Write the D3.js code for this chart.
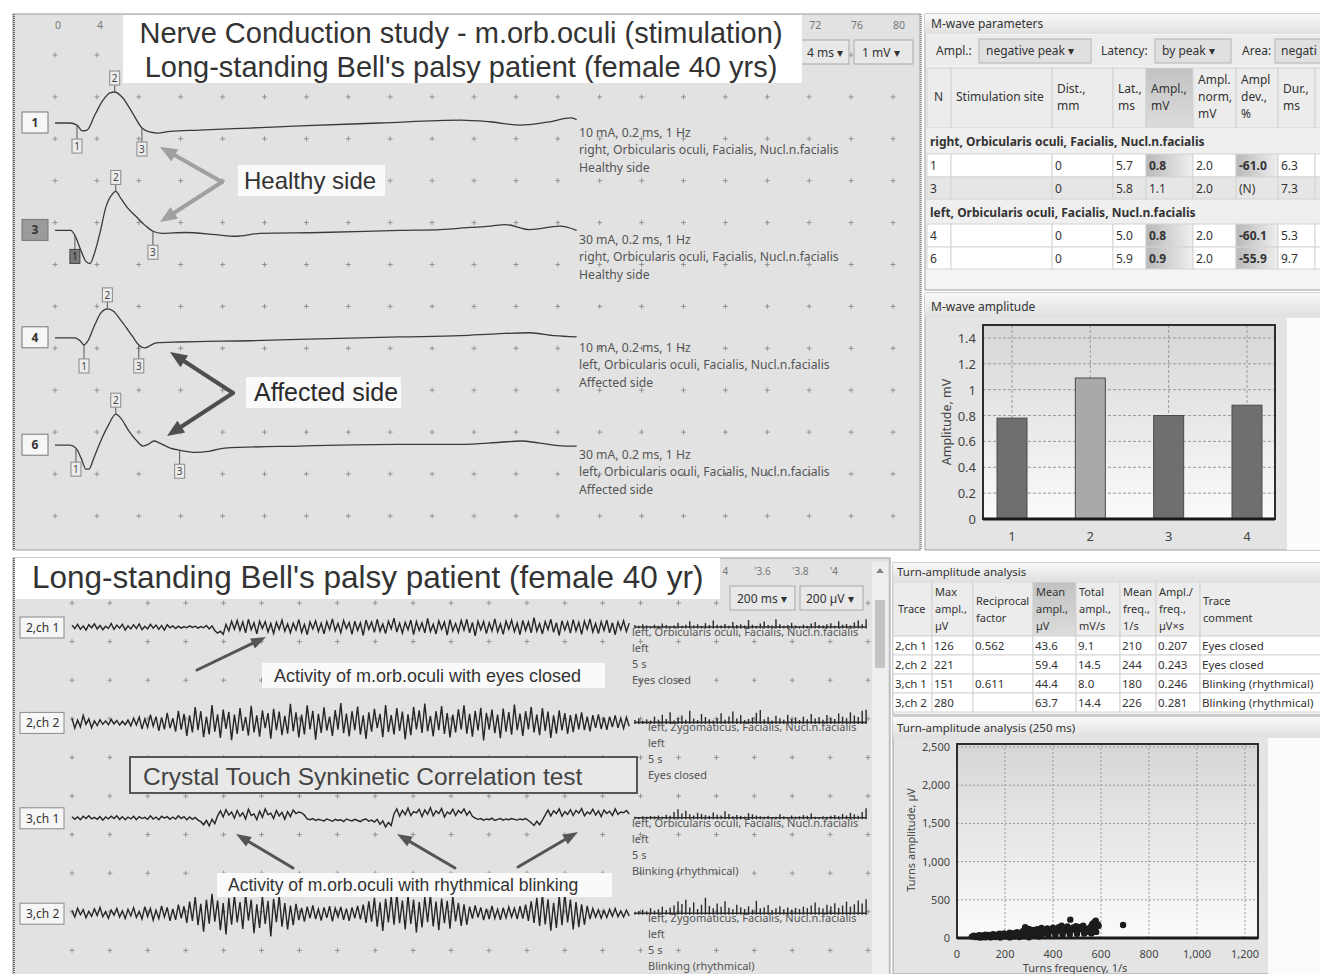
<!DOCTYPE html>
<html><head><meta charset="utf-8">
<script src="https://cdn.jsdelivr.net/npm/d3@7"></script>
<style>body{margin:0;background:#fff}svg{display:block}</style>
</head><body>
<script>
// ================= DATA =================
// --- M-wave traces (time ms, deflection mV, upward positive as displayed)
const mTraceIds = ["1","3","4","6"];
const mTrace1 = [[0,0],[1.4,0],[2.1,-0.05],[2.6,-0.19],[3.05,-0.17],[3.8,0.19],[4.6,0.55],[5.25,0.72],[5.7,0.74],[6.4,0.62],[7.35,0.26],[8.3,-0.12],[9.1,-0.22],[9.8,-0.24],[11.0,-0.2],[13.8,-0.17],[18.6,-0.12],[23.4,-0.07],[31.0,0],[38.7,0.07],[41.5,0.03],[44.4,-0.05],[47.0,0.02],[49.3,0.12],[49.8,0.08]];
const mTrace3 = [[0,0],[1.5,0],[1.9,-0.12],[2.4,-0.43],[2.95,-0.74],[3.35,-0.79],[3.7,-0.6],[4.3,-0.05],[4.85,0.55],[5.45,0.86],[5.8,0.93],[6.3,0.76],[6.95,0.53],[7.75,0.33],[8.6,0.12],[9.35,-0.02],[10.2,-0.07],[12.4,-0.05],[15.3,-0.1],[17.2,-0.14],[19.6,-0.07],[25.3,-0.05],[32.9,0],[36.8,0.02],[39.6,0.07],[41.5,0.1],[43.0,0.14],[45.3,0.02],[48.2,0.1],[49.8,0]];
const mTrace4 = [[0,0],[1.9,0],[2.4,-0.07],[2.77,-0.17],[3.15,-0.07],[3.8,0.31],[4.4,0.6],[5.0,0.69],[5.55,0.64],[6.4,0.38],[7.35,0.05],[8.0,-0.17],[8.6,-0.24],[9.05,-0.19],[9.65,-0.12],[11.9,-0.1],[18.6,-0.07],[26.2,-0.02],[32.9,0.02],[38.7,0.05],[42.5,0.1],[45.3,0.12],[47.7,0.05],[49.8,0.02]];
const mTrace6 = [[0,0],[1.43,0],[2.0,-0.07],[2.5,-0.31],[2.95,-0.57],[3.25,-0.57],[3.7,-0.31],[4.4,0.12],[5.1,0.48],[5.8,0.74],[6.3,0.64],[6.95,0.38],[7.75,0.12],[8.4,-0.02],[8.9,0.02],[9.45,0.1],[10.0,0.05],[11.0,-0.07],[11.9,-0.12],[13.4,-0.17],[14.8,-0.14],[16.2,-0.07],[23.4,-0.02],[32.9,0.02],[38.7,0.02],[42.5,0.07],[44.5,0.1],[46.3,0.05],[48.7,-0.02],[49.8,-0.02]];
const mMarkers = [[2.1,5.7,8.3],[1.9,5.8,9.35],[2.77,5.0,8.0],[2.0,5.8,11.9]];
const mStim = ["10 mA, 0.2 ms, 1 Hz","30 mA, 0.2 ms, 1 Hz","10 mA, 0.2 ms, 1 Hz","30 mA, 0.2 ms, 1 Hz"];
const mSite = ["right, Orbicularis oculi, Facialis, Nucl.n.facialis","right, Orbicularis oculi, Facialis, Nucl.n.facialis","left, Orbicularis oculi, Facialis, Nucl.n.facialis","left, Orbicularis oculi, Facialis, Nucl.n.facialis"];
const mSide = ["Healthy side","Healthy side","Affected side","Affected side"];
const mTimeTicks = [0,4,8,12,16,20,24,28,32,36,40,44,48,52,56,60,64,68,72,76,80];

// --- M-wave parameter table
const mwaveGroups = ["right, Orbicularis oculi, Facialis, Nucl.n.facialis","left, Orbicularis oculi, Facialis, Nucl.n.facialis"];
const mwaveN = ["1","3","4","6"];
const mwaveDist = ["0","0","0","0"];
const mwaveLat = ["5.7","5.8","5.0","5.9"];
const mwaveAmpl = ["0.8","1.1","0.8","0.9"];
const mwaveNorm = ["2.0","2.0","2.0","2.0"];
const mwaveDev = ["-61.0","(N)","-60.1","-55.9"];
const mwaveDur = ["6.3","7.3","5.3","9.7"];

// --- M-wave amplitude bar chart
const barCategories = ["1","2","3","4"];
const barValues = [0.78,1.09,0.80,0.88];
const barTicks = [0,0.2,0.4,0.6,0.8,1,1.2,1.4];

// --- EMG traces (µV), 2.94 s of raw signal each
const emgLabels = ["2,ch 1","2,ch 2","3,ch 1","3,ch 2"];
const emg21 = [10,-8,14,-12,6,-16,12,-4,16,-10,8,-14,4,-8,18,-12,10,-6,14,-16,
6,-10,12,-8,16,-14,4,-10,14,-6,10,-12,8,-16,12,-4,6,-8,4,-6,
2,-4,6,-2,4,-6,2,-4,8,-10,6,-18,-32,-22,-38,14,-20,30,-12,34,
-18,26,-30,40,-14,22,-36,30,-8,28,-26,18,-34,24,-12,36,-22,16,-30,20,
-16,38,-28,14,-40,26,-10,32,-24,20,-36,28,-14,42,-20,18,-30,34,-8,24,
-38,30,-18,22,-44,36,-12,26,-28,40,-22,16,-34,30,-10,46,-26,20,-32,24,
-14,36,-40,28,-18,22,-30,44,-24,14,-36,32,-12,26,-42,38,-20,18,-28,34,
-16,40,-30,24,-46,30,-14,28,-34,22,-20,42,-26,16,-38,30,-12,36,-24,20,
-40,34,-18,26,-30,48,-22,18,-36,28,-14,40,-28,22,-44,32,-16,26,-32,38,
-20,24,-38,30,-12,42,-26,18,-34,28,-18,36,-30,22,-40,26,-14,32,-24,20];
const emg22 = [20,-30,12,-24,36,-10,18,-28,8,-16,14,-10,8,-12,16,-8,10,-14,6,-12,
12,-18,22,-14,28,-34,18,-26,40,-20,30,-44,26,-36,50,-30,22,-48,60,-38,
44,-70,36,-52,80,-40,58,-76,30,-62,90,-48,42,-80,66,-34,54,-92,40,-60,
74,-44,28,-68,86,-52,36,-74,62,-30,48,-84,70,-40,56,-66,34,-58,96,-46,
52,-78,40,-62,88,-36,60,-90,44,-54,78,-42,30,-70,64,-38,100,-56,46,-72,
58,-40,82,-64,36,-86,52,-48,70,-30,44,-76,90,-50,38,-62,74,-44,56,-88,
42,-66,80,-36,62,-54,98,-46,34,-72,58,-40,84,-60,48,-78,40,-52,68,-36,
88,-58,44,-74,60,-42,76,-94,50,-38,66,-56,40,-82,72,-48,54,-64,92,-40,
46,-70,58,-36,80,-52,40,-66,74,-44,56,-80,36,-58,62,-42,48,-60,38,-50,
44,-36,52,-40,30,-46,38,-28,42,-34,26,-38,30,-24,36,-28,22,-32,26,-20];
const emg31 = [6,-8,4,-10,8,-4,10,-6,2,-8,6,-12,4,-6,8,-4,10,-8,6,-10,
4,-6,8,-10,6,-4,2,-8,10,-6,4,-10,8,-2,6,-8,4,-6,10,-4,
6,-10,4,-8,2,-12,-20,-36,-14,-42,-8,-30,10,36,4,42,14,30,-2,38,
8,26,-6,44,12,20,-10,34,2,46,16,24,-4,38,10,28,-8,32,6,40,
22,30,26,14,-6,-10,-4,-14,-8,-12,-16,-6,-12,-18,-8,-14,-10,-20,-6,-12,
-16,-8,-14,-20,-10,-6,-18,-12,-22,-8,-34,-16,-48,-24,-40,20,46,8,38,16,
50,12,32,26,44,6,40,18,52,10,36,22,48,4,30,20,44,12,38,24,
46,14,34,8,-2,-8,-4,-12,-6,-10,-2,-14,-8,-4,-12,-6,-10,-4,-8,-12,
-6,-10,-4,-14,-26,-40,-18,-36,-12,14,40,10,36,22,46,8,32,18,42,12,
38,24,48,10,30,20,44,14,36,6,40,22,34,12,46,18,30,26,38,20];
const emg32 = [14,-20,26,-8,18,-24,10,-16,22,-12,30,-18,8,-26,16,-10,24,-20,12,-28,
20,-14,28,-22,10,-30,34,-18,24,-36,16,-28,38,-20,30,-40,22,-34,44,-26,
36,-50,60,-40,84,-62,48,-96,70,-54,100,-44,66,-88,52,-110,78,-60,92,-48,
58,-82,96,-38,70,-104,46,-76,88,-56,64,-120,74,-46,90,-70,52,-84,40,-62,
48,-36,28,-44,34,-26,40,-30,22,-38,30,-24,36,-42,26,-20,32,-34,24,-40,
30,-26,38,-32,44,-50,62,-44,80,-70,56,-92,74,-48,88,-60,100,-52,66,-84,
92,-56,70,-100,58,-74,84,-46,96,-68,60,-88,76,-52,64,-80,90,-42,54,-66,
46,-60,34,-28,40,-22,30,-36,24,-30,38,-26,20,-34,28,-24,32,-20,26,-30,
36,-28,44,-40,62,-50,80,-66,96,-58,72,-90,54,-76,88,-62,100,-48,70,-84,
58,-72,46,-60,38,-30,24,-20,18,-26,14,-22,20,-16,24,-18,12,-20,16,-14];
// turn spike heights (µV) shown after the raw signal
const turns21 = [10,6,14,8,4,12,6,18,10,4,8,22,6,12,30,8,14,6,20,10,34,12,8,16,6,26,10,14,8,36,12,6,18,28,10,8,40,14,6,10,22,8,4,12,6,18,26,10,8,14,20,6,30,12,16,8,24,34,14,40];
const turns22 = [12,20,8,16,10,30,14,40,18,52,10,24,36,14,60,20,12,44,28,16,10,22,48,14,30,56,20,38,12,18,26,50,64,16,28,10,34,22,14,40,18,26,12,30,16,44,20,28,14,38,24,18,46,30,22,52,36,28,60,66];
const turns31 = [6,4,8,6,10,8,12,6,16,10,30,44,22,36,18,12,26,20,14,10,28,16,12,34,20,8,14,10,6,24,18,12,8,6,10,4,6,18,8,4,12,6,8,14,10,22,6,4,8,6,10,14,8,20,12,26,18,10,30,50];
const turns32 = [8,12,18,10,26,14,20,34,16,28,40,60,48,70,30,56,22,44,80,38,26,50,34,62,28,20,44,30,22,36,18,64,24,30,42,16,26,36,20,30,18,28,22,34,26,40,56,30,24,44,36,52,28,40,60,34,46,66,50,72];
const emgMuscle = ["left, Orbicularis oculi, Facialis, Nucl.n.facialis","left, Zygomaticus, Facialis, Nucl.n.facialis","left, Orbicularis oculi, Facialis, Nucl.n.facialis","left, Zygomaticus, Facialis, Nucl.n.facialis"];
const emgComment = ["Eyes closed","Eyes closed","Blinking (rhythmical)","Blinking (rhythmical)"];
const emgTimeTicks = [0,0.2,0.4,0.6,0.8,1,1.2,1.4,1.6,1.8,2,2.2,2.4,2.6,2.8,3,3.2,3.4,3.6,3.8,4];

// --- Turn-amplitude table
const taTrace = ["2,ch 1","2,ch 2","3,ch 1","3,ch 2"];
const taMax = ["126","221","151","280"];
const taRecip = ["0.562","","0.611",""];
const taMean = ["43.6","59.4","44.4","63.7"];
const taTotal = ["9.1","14.5","8.0","14.4"];
const taFreq = ["210","244","180","226"];
const taRatio = ["0.207","0.243","0.246","0.281"];
const taComment = ["Eyes closed","Eyes closed","Blinking (rhythmical)","Blinking (rhythmical)"];

// --- Turn-amplitude scatter (frequency 1/s, amplitude µV)
const turnFreq = [62,70,78,85,92,100,105,112,118,125,130,138,145,150,158,165,170,178,185,190,196,202,208,214,220,226,232,238,244,250,256,262,268,274,280,284,290,296,300,306,312,318,322,328,334,340,346,352,358,364,370,376,382,388,394,400,406,412,418,424,430,436,442,448,454,460,466,472,478,484,490,496,502,508,514,520,526,532,538,544,550,556,562,566,570,574,578,582,586,590,692,120,160,200,240,280,320,350,380,410,440,470,500,530,560,580,300,340,260,220,180,140,100,90];
const turnAmp = [18,30,12,26,38,20,34,14,44,28,40,22,36,50,30,44,18,56,38,26,60,42,30,54,70,36,48,62,28,76,50,40,66,88,54,140,46,72,120,60,92,104,50,80,116,70,96,130,62,108,84,124,74,110,96,134,80,118,100,140,90,160,112,128,96,150,120,240,104,138,116,156,100,130,146,110,160,124,104,120,80,140,170,190,120,210,226,150,180,160,170,10,14,20,18,24,28,30,36,40,46,50,54,58,60,80,10,20,12,8,6,8,6,10];
const scatterXTicks = [0,200,400,600,800,1000,1200];
const scatterYTicks = [0,500,1000,1500,2000,2500];

// ================= RENDER =================
const svg = d3.select("body").append("svg").attr("width",1320).attr("height",974)
  .style("font-family","'Noto Sans',sans-serif");
const defs = svg.append("defs");
function lg(id,stops,x2,y2){const g=defs.append("linearGradient").attr("id",id).attr("x1",0).attr("y1",0).attr("x2",x2).attr("y2",y2);stops.forEach(s=>g.append("stop").attr("offset",s[0]).attr("stop-color",s[1]));}
lg("hdr",[[0,"#f8f8f8"],[1,"#e0e0e0"]],0,1);
lg("plotbg",[[0,"#d6d6d6"],[1,"#fbfbfb"]],0,1);
lg("cellsh",[[0,"#b8b8b8"],[1,"#efefef"]],1,0);
lg("hdrsh",[[0,"#c2c2c2"],[1,"#dcdcdc"]],0,1);
const ARIAL = "'Liberation Sans',Arial,sans-serif";

function T(g,x,y,s,o={}){const t=g.append("text").attr("x",x).attr("y",y).text(s)
  .attr("font-size",o.size||12).attr("fill",o.fill||"#3a3a3a");
  if(o.anchor)t.attr("text-anchor",o.anchor); if(o.weight)t.attr("font-weight",o.weight);
  if(o.family)t.attr("font-family",o.family); return t;}
function R(g,x,y,w,h,fill,stroke,sw){return g.append("rect").attr("x",x).attr("y",y).attr("width",w).attr("height",h)
  .attr("fill",fill).attr("stroke",stroke||"none").attr("stroke-width",sw||1);}
function plus(g,x,y){g.append("path").attr("d",`M${x-2.5},${y}h5M${x},${y-2.5}v5`).attr("stroke","#8c8c8c").attr("stroke-width",0.9);}
function arrow(g,x1,y1,x2,y2,col,w,hl,hw){const a=Math.atan2(y2-y1,x2-x1);const bx=x2-hl*Math.cos(a),by=y2-hl*Math.sin(a);
  g.append("line").attr("x1",x1).attr("y1",y1).attr("x2",bx).attr("y2",by).attr("stroke",col).attr("stroke-width",w).attr("stroke-linecap","round");
  const px=-Math.sin(a)*hw/2,py=Math.cos(a)*hw/2;
  g.append("path").attr("d",`M${x2},${y2}L${bx+px},${by+py}L${bx-px},${by-py}Z`).attr("fill",col);}
function interp(tr,t){for(let i=1;i<tr.length;i++){if(tr[i][0]>=t){const a=tr[i-1],b=tr[i];return a[1]+(b[1]-a[1])*(t-a[0])/(b[0]-a[0]);}}return tr[tr.length-1][1];}

// ---------- TOP-LEFT: M-wave traces ----------
const g1 = svg.append("g");
R(g1,13,14,907,536,"#e2e2e2","#9c9c9c");
g1.append("line").attr("x1",14).attr("x2",14).attr("y1",14).attr("y2",550).attr("stroke","#666").attr("stroke-dasharray","1,1").attr("stroke-width",2);
const xT = d3.scaleLinear().domain([0,80]).range([55,893]);
const divT = (xT(4)-xT(0));
for(let j=0;j<12;j++) mTimeTicks.forEach(t=>plus(g1,xT(t),55+divT*j));
// tick labels that are not hidden behind the title box
mTimeTicks.filter(t=>xT(t)<118||xT(t)>802).forEach(t=>T(g1,xT(t),29,String(t),{size:10.5,fill:"#777"}));
const mTraces=[mTrace1,mTrace3,mTrace4,mTrace6];
mTraces.forEach((tr,i)=>{
  const base = 123 + i*107.4;
  const yT = d3.scaleLinear().domain([0,1]).range([base, base-divT]);
  g1.append("path").datum(tr).attr("d",d3.line().x(d=>xT(d[0])).y(d=>yT(d[1])).curve(d3.curveMonotoneX))
    .attr("fill","none").attr("stroke","#3a3a3a").attr("stroke-width",1.3);
  mMarkers[i].forEach((t,k)=>{
    const px=xT(t), py=yT(interp(tr,t));
    if(k===1){
      g1.append("line").attr("x1",px).attr("x2",px).attr("y1",py).attr("y2",py-7).attr("stroke","#555");
      R(g1,px-5,py-21,10,14,"#ececec","#888");
      T(g1,px,py-10,"2",{size:10,anchor:"middle",fill:"#444"});
    } else {
      g1.append("line").attr("x1",px).attr("x2",px).attr("y1",py).attr("y2",py+14).attr("stroke","#555");
      const dark = (i===1 && k===0);
      R(g1,px-5,py+14,10,14,dark?"#7a7a7a":"#ececec",dark?"#444":"#888");
      T(g1,px,py+25,String(k+1),{size:10,anchor:"middle",fill:dark?"#222":"#444"});
    }
  });
  R(g1,22,base-11,26,21,i===1?"#9b9b9b":"#f6f6f6","#777");
  T(g1,35,base+4,mTraceIds[i],{size:12,anchor:"middle",weight:"bold",fill:"#333"});
  T(g1,579,base+14,mStim[i],{size:12.2,fill:"#555"});
  T(g1,579,base+31,mSite[i],{size:12.2,fill:"#555"});
  T(g1,579,base+49,mSide[i],{size:12.2,fill:"#555"});
});
// dropdowns
R(g1,780,40,69,24,"#e8e8e8","#a8a8a8"); T(g1,843,57,"4 ms  ▾",{size:12,anchor:"end",fill:"#333"});
R(g1,854,40,59,24,"#e8e8e8","#a8a8a8"); T(g1,862,57,"1 mV  ▾",{size:12,fill:"#333"});
// title box
R(g1,123,15,679,68,"#ffffff");
T(g1,461,43,"Nerve Conduction study - m.orb.oculi (stimulation)",{size:29,anchor:"middle",family:ARIAL,fill:"#333"});
T(g1,461,77,"Long-standing Bell's palsy patient (female 40 yrs)",{size:29,anchor:"middle",family:ARIAL,fill:"#333"});
// annotations
R(g1,238,165,147,31,"#fafafa");
T(g1,244,189,"Healthy side",{size:24,family:ARIAL,fill:"#333"});
arrow(g1,222,182,160,147,"#a0a0a0",4,17,14);
arrow(g1,222,182,160,222,"#a0a0a0",4,17,14);
R(g1,246,377,155,31,"#fafafa");
T(g1,254,401,"Affected side",{size:25,family:ARIAL,fill:"#2a2a2a"});
arrow(g1,233,393,170,352,"#4e4e4e",4,17,14);
arrow(g1,233,393,167,436,"#4e4e4e",4,17,14);
g1.append("line").attr("x1",921).attr("x2",921).attr("y1",14).attr("y2",550).attr("stroke","#999").attr("stroke-dasharray","1,1").attr("stroke-width",2);

// ---------- TOP-RIGHT: M-wave parameters table ----------
const g2 = svg.append("g");
R(g2,925,14,400,276,"#f4f4f4","#a0a0a0");
R(g2,925,14,400,20,"url(#hdr)");
T(g2,931,28,"M-wave parameters",{size:12,fill:"#333"});
R(g2,926,35,399,31,"#ececec");
T(g2,936,55,"Ampl.:",{size:12,fill:"#333"});
R(g2,979,39,112,24,"#e0e0e0","#b4b4b4"); T(g2,986,55,"negative peak  ▾",{size:12,fill:"#333"});
T(g2,1101,55,"Latency:",{size:12,fill:"#333"});
R(g2,1155,39,76,24,"#e0e0e0","#b4b4b4"); T(g2,1162,55,"by peak  ▾",{size:12,fill:"#333"});
T(g2,1242,55,"Area:",{size:12,fill:"#333"});
R(g2,1275,39,60,24,"#e0e0e0","#b4b4b4"); T(g2,1281,55,"negati",{size:12,fill:"#333"});
const mc = [927,951,1052,1113,1146,1193,1236,1278,1315,1325];
const mh = [["N"],["Stimulation site"],["Dist.,","mm"],["Lat.,","ms"],["Ampl.,","mV"],["Ampl.","norm,","mV"],["Ampl","dev.,","%"],["Dur.,","ms"],[""]];
mh.forEach((lines,c)=>{
  R(g2,mc[c],68,mc[c+1]-mc[c],60,c===4?"url(#hdrsh)":"#ececec","#d2d2d2");
  lines.forEach((s,k)=>T(g2,mc[c]+(c===0?7:5),101+(k-(lines.length-1)/2)*17,s,{size:12,fill:"#333"}));
});
const mRowTop = [154,177,224,247];
[[128,mwaveGroups[0]],[199,mwaveGroups[1]]].forEach(([y,s])=>{
  R(g2,926,y,399,y===199?25:26,"#efefef");
  T(g2,930,y+18,s,{size:12,weight:"bold",fill:"#333"});
});
mwaveN.forEach((n,r)=>{
  const y=mRowTop[r], h=(r===1||r===3)?22:23;
  const vals=[n,"",mwaveDist[r],mwaveLat[r],mwaveAmpl[r],mwaveNorm[r],mwaveDev[r],mwaveDur[r],""];
  const isN = mwaveDev[r]==="(N)";
  vals.forEach((v,c)=>{
    let fill = r===1 ? "#e6e6e6" : "#ffffff";
    if(!isN && (c===4||c===6)) fill="url(#cellsh)";
    R(g2,mc[c],y,mc[c+1]-mc[c],h,fill,"#d4d4d4");
    if(v!=="") T(g2,mc[c]+3,y+16,v,{size:12,fill:"#333",weight:(!isN&&(c===4||c===6))?"bold":null});
  });
});

// ---------- M-wave amplitude bar chart ----------
const g3 = svg.append("g");
R(g3,925,293,400,257,"#e4e4e4","#a0a0a0");
R(g3,925,293,400,24,"url(#hdr)");
T(g3,931,311,"M-wave amplitude",{size:12,fill:"#333"});
R(g3,1287,318,38,232,"#fbfbfb");
const yB = d3.scaleLinear().domain([0,1.5]).range([519,325]);
const xB = d3.scalePoint().domain(barCategories).range([1012,1247]);
R(g3,983,325,292,194,"url(#plotbg)");
barTicks.forEach(t=>{ if(t>0) g3.append("line").attr("x1",983).attr("x2",1275).attr("y1",yB(t)).attr("y2",yB(t)).attr("stroke","#9a9a9a").attr("stroke-dasharray","3,2");});
barCategories.forEach(c=>g3.append("line").attr("x1",xB(c)).attr("x2",xB(c)).attr("y1",325).attr("y2",519).attr("stroke","#9a9a9a").attr("stroke-dasharray","3,2"));
g3.selectAll(".bar").data(barValues).enter().append("rect")
  .attr("x",(d,i)=>xB(barCategories[i])-15).attr("width",30)
  .attr("y",d=>yB(d)).attr("height",d=>yB(0)-yB(d))
  .attr("fill",(d,i)=>i===1?"#a9a9a9":"#6f6f6f").attr("stroke","#4a4a4a");
R(g3,983,325,292,194,"none","#2e2e2e",2);
g3.append("line").attr("x1",983).attr("x2",1275).attr("y1",519).attr("y2",519).attr("stroke","#1a1a1a").attr("stroke-width",3);
barTicks.forEach(t=>T(g3,976,yB(t)+5,d3.format("")(t),{size:13,anchor:"end",fill:"#444"}));
barCategories.forEach(c=>T(g3,xB(c),541,c,{size:13,anchor:"middle",fill:"#444"}));
T(g3,0,0,"Amplitude, mV",{size:12.5,anchor:"middle",fill:"#444"}).attr("transform","translate(951,422) rotate(-90)");

// ---------- BOTTOM-LEFT: EMG ----------
const g4 = svg.append("g");
R(g4,13,558,877,420,"#e2e2e2","#9c9c9c");
g4.append("line").attr("x1",14).attr("x2",14).attr("y1",558).attr("y2",974).attr("stroke","#666").attr("stroke-dasharray","1,1").attr("stroke-width",2);
const xE = d3.scaleLinear().domain([0,4.2]).range([72,868]);
const divE = 38.6;
const gridE = emgTimeTicks.concat([4.2]);
for(let j=0;j<10;j++) gridE.forEach(t=>plus(g4,xE(t),603+divE*j));
// time labels not hidden by the title box
emgTimeTicks.filter(t=>xE(t)>714).forEach(t=>T(g4,xE(t)+(t===3.4?6:0),575,(t===3.4?"4":"'"+(Number.isInteger(t)?String(t):t.toFixed(1))),{size:10,fill:"#777"}));
const emgSets=[emg21,emg22,emg31,emg32], turnSets=[turns21,turns22,turns31,turns32];
const emgDur = 2.94, turnStart = 2.97, turnEnd = 4.19;
emgSets.forEach((arr,i)=>{
  const base = 627 + i*95.4;
  const yE = d3.scaleLinear().domain([0,200]).range([base, base-divE]);
  const dt = emgDur/(arr.length-1);
  g4.append("path").datum(arr).attr("d",d3.line().x((d,k)=>xE(k*dt)).y(d=>yE(d)))
    .attr("fill","none").attr("stroke","#262626").attr("stroke-width",1.4);
  const tu = turnSets[i], ds=(turnEnd-turnStart)/(tu.length-1);
  g4.append("line").attr("x1",xE(turnStart)).attr("x2",xE(turnEnd)).attr("y1",yE(0)).attr("y2",yE(0)).attr("stroke","#333").attr("stroke-width",1.6);
  g4.selectAll(null).data(tu).enter().append("line")
    .attr("x1",(d,k)=>xE(turnStart+k*ds)).attr("x2",(d,k)=>xE(turnStart+k*ds))
    .attr("y1",yE(-8)).attr("y2",d=>yE(d)).attr("stroke","#2a2a2a").attr("stroke-width",1.4);
  R(g4,20,base-10,44,21,"#f6f6f6","#8a8a8a");
  T(g4,26,base+5,emgLabels[i],{size:12,fill:"#333"});
  const tx = (i%2===1) ? 648 : 632;
  T(g4,tx,base+9,emgMuscle[i],{size:11,fill:"#555"});
  T(g4,tx,base+25,"left",{size:11,fill:"#555"});
  T(g4,tx,base+41,"5 s",{size:11,fill:"#555"});
  T(g4,tx,base+57,emgComment[i],{size:11,fill:"#555"});
});
R(g4,15,558,705,41,"#ffffff");
T(g4,32,588,"Long-standing Bell's palsy patient (female 40 yr)",{size:31.5,family:ARIAL,fill:"#333"});
R(g4,730,586,65,24,"#e8e8e8","#a8a8a8"); T(g4,737,603,"200 ms  ▾",{size:12,fill:"#333"});
R(g4,800,586,63,24,"#e8e8e8","#a8a8a8"); T(g4,806,603,"200 µV  ▾",{size:12,fill:"#333"});
// scrollbar
R(g4,872,562,16,412,"#eeeeee");
R(g4,875,600,10,68,"#c4c4c4");
g4.append("path").attr("d","M876,573L880,568L884,573Z").attr("fill","#888");
// annotations
R(g4,262,663,343,25,"#fafafa");
T(g4,274,682,"Activity of m.orb.oculi with eyes closed",{size:18,family:ARIAL,fill:"#333"});
arrow(g4,197,670,266,637,"#555",3,15,11);
R(g4,130,757,507,36,"#e8e8e8","#555",2);
T(g4,143,785,"Crystal Touch Synkinetic Correlation test",{size:24.5,family:ARIAL,fill:"#444"});
R(g4,217,873,395,24,"#fafafa");
T(g4,228,891,"Activity of m.orb.oculi with rhythmical blinking",{size:17.5,family:ARIAL,fill:"#333"});
arrow(g4,293,868,236,834,"#555",3,15,11);
arrow(g4,455,868,397,834,"#555",3,15,11);
arrow(g4,518,867,578,832,"#555",3,15,11);

// ---------- BOTTOM-RIGHT: Turn-amplitude table ----------
const g5 = svg.append("g");
R(g5,893,563,432,152,"#f4f4f4","#a0a0a0");
R(g5,893,563,432,18,"url(#hdr)");
T(g5,897,576,"Turn-amplitude analysis",{size:11.5,fill:"#333"});
const tc = [893,932,973,1033,1076,1120,1156,1200,1325];
const th = [["Trace"],["Max","ampl.,","µV"],["Reciprocal","factor"],["Mean","ampl.,","µV"],["Total","ampl.,","mV/s"],["Mean","freq.,","1/s"],["Ampl./","freq.,","µV×s"],["Trace","comment"]];
th.forEach((lines,c)=>{
  R(g5,tc[c],582,tc[c+1]-tc[c],54,c===3?"url(#hdrsh)":"#ececec","#d2d2d2");
  lines.forEach((s,k)=>T(g5,tc[c]+(c===0?5:3),613+(k-(lines.length-1)/2)*17,s,{size:11,fill:"#333"}));
});
taTrace.forEach((tr,r)=>{
  const y=636+r*19;
  [tr,taMax[r],taRecip[r],taMean[r],taTotal[r],taFreq[r],taRatio[r],taComment[r]].forEach((v,c)=>{
    R(g5,tc[c],y,tc[c+1]-tc[c],19,"#ffffff","#d4d4d4");
    T(g5,tc[c]+2,y+14,v,{size:11.5,fill:"#333"});
  });
});

// ---------- Turn-amplitude scatter ----------
const g6 = svg.append("g");
R(g6,893,717,432,257,"#e4e4e4","#a0a0a0");
R(g6,893,717,432,21,"url(#hdr)");
T(g6,897,732,"Turn-amplitude analysis (250 ms)",{size:11.5,fill:"#333"});
R(g6,1268,738,57,236,"#fbfbfb");
const xS = d3.scaleLinear().domain([0,1250]).range([957,1257]);
const yS = d3.scaleLinear().domain([0,2500]).range([938,747]);
R(g6,957,744,301,194,"url(#plotbg)");
scatterXTicks.forEach(t=>{ if(t>0) g6.append("line").attr("x1",xS(t)).attr("x2",xS(t)).attr("y1",744).attr("y2",938).attr("stroke","#9a9a9a").attr("stroke-dasharray","2,2");});
scatterYTicks.forEach(t=>{ if(t>0) g6.append("line").attr("x1",957).attr("x2",1258).attr("y1",yS(t)).attr("y2",yS(t)).attr("stroke","#9a9a9a").attr("stroke-dasharray","2,2");});
g6.selectAll(".pt").data(turnFreq).enter().append("circle")
  .attr("cx",d=>xS(d)).attr("cy",(d,i)=>yS(turnAmp[i])).attr("r",3.2).attr("fill","#1c1c1c");
R(g6,957,744,301,194,"none","#2e2e2e",2);
g6.append("line").attr("x1",957).attr("x2",1258).attr("y1",938).attr("y2",938).attr("stroke","#1a1a1a").attr("stroke-width",3);
scatterYTicks.forEach(t=>T(g6,950,yS(t)+4,d3.format(",")(t),{size:11,anchor:"end",fill:"#444"}));
scatterXTicks.forEach(t=>T(g6,xS(t),958,d3.format(",")(t),{size:11,anchor:"middle",fill:"#444"}));
T(g6,1075,972,"Turns frequency, 1/s",{size:11,anchor:"middle",fill:"#444"});
T(g6,0,0,"Turns amplitude, µV",{size:11,anchor:"middle",fill:"#444"}).attr("transform","translate(915,840) rotate(-90)");
</script>
</body></html>
